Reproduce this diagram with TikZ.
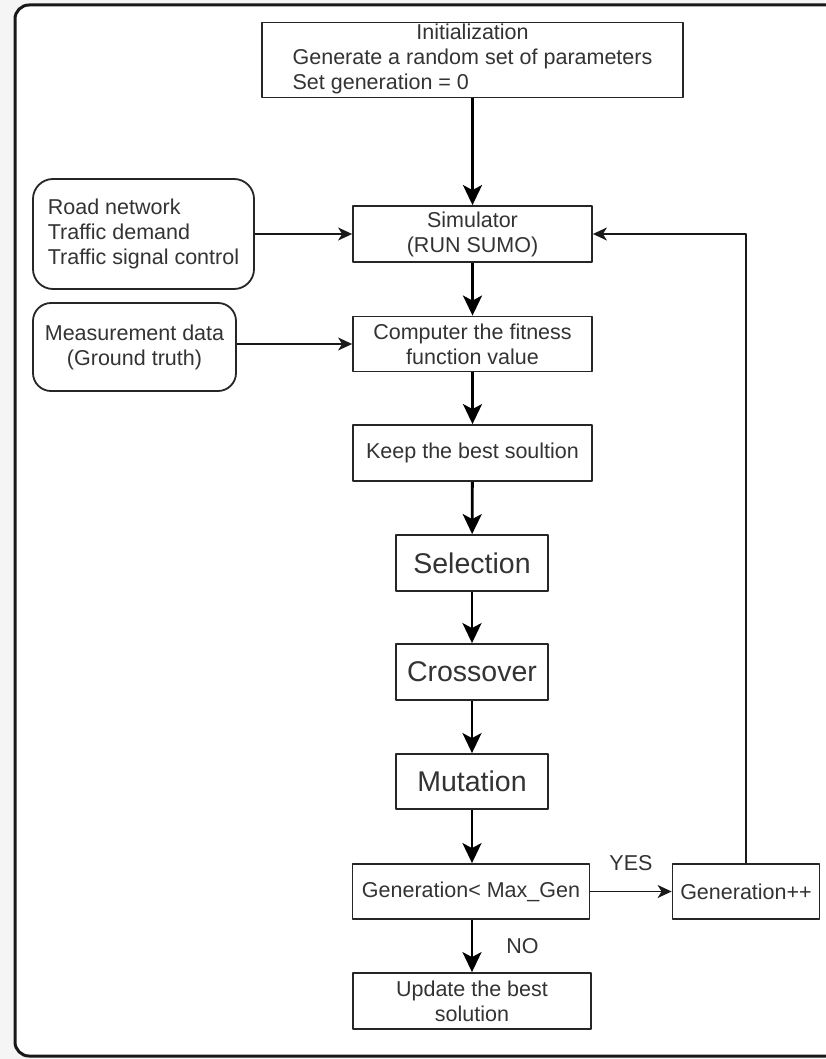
\documentclass[tikz,border=0pt]{standalone}
\usepackage{fontspec}
\setmainfont{Liberation Sans}
\usetikzlibrary{arrows.meta}
\begin{document}
\begin{tikzpicture}[x=1pt, y=-1pt, font=\fontsize{21.5}{25}\selectfont, line join=round, >={Stealth[length=20pt,width=19pt,inset=5pt]},
	blk/.style={draw=black!85, line width=1.8pt, inner sep=0pt, text=black!80, fill=white},
	rblk/.style={blk, rounded corners=20pt},
	bigtxt/.style={font=\fontsize{28.5}{34}\selectfont},
	arr/.style={->, line width=2.8pt, draw=black},
	larr/.style={-{Stealth[length=14pt,width=13pt,inset=4pt]}, line width=1.6pt, draw=black!90},
	lbl/.style={text=black!80, inner sep=7pt}]
		\useasboundingbox (0,0) rectangle (825,1059);
		\fill[black!4] (0,0) rectangle (825,1059);
		\draw[line width=3pt, rounded corners=14pt, draw=black!90, fill=white] (15,5) rectangle (860,1056);
		\node[blk, minimum width=421pt, minimum height=74pt] (init) at (472.5,60) {\begin{tabular}{@{}l@{}}\multicolumn{1}{@{}c@{}}{Initialization}\\Generate a random set of parameters\\Set generation = 0\end{tabular}};
		\node[blk, minimum width=239pt, minimum height=56pt, align=center] (sim) at (472.5,234) {Simulator\\(RUN SUMO)};
		\node[blk, minimum width=239pt, minimum height=55pt, align=center] (fit) at (472.5,344) {Computer the fitness\\function value};
		\node[blk, minimum width=239pt, minimum height=56pt] (keep) at (472.5,453) {Keep the best soultion};
		\node[blk, bigtxt, minimum width=152pt, minimum height=56pt] (sel) at (472,563) {Selection};
		\node[blk, bigtxt, minimum width=152pt, minimum height=56pt] (cross) at (472,672) {Crossover};
		\node[blk, bigtxt, minimum width=152pt, minimum height=55pt] (mut) at (472,781.5) {Mutation};
		\node[blk, minimum width=237pt, minimum height=55pt] (gen) at (471,891.5) {Generation< Max\_Gen};
		\node[blk, minimum width=147pt, minimum height=55pt] (gpp) at (746,891.5) {Generation++};
		\node[blk, minimum width=238pt, minimum height=56pt, align=center] (upd) at (472,1001) {Update the best\\solution};
		\node[rblk, minimum width=221pt, minimum height=110pt, align=left] (road) at (143.5,234) {Road network\\Traffic demand\\Traffic signal control};
		\node[rblk, rounded corners=18pt, minimum width=203pt, minimum height=88pt, align=center] (meas) at (134.5,347) {Measurement data\\(Ground truth)};
		\draw[arr] (init) -- (sim);
		\draw[arr] (sim) -- (fit);
		\draw[arr] (fit) -- (keep);
		\draw[arr] (keep) -- (sel);
		\draw[arr] (sel) -- (cross);
		\draw[arr] (cross) -- (mut);
		\draw[arr] (mut.south) -- (mut.south |- gen.north);
		\draw[arr] (upd.north |- gen.south) -- node[lbl, right=26pt]{NO} (upd.north);
		\draw[larr] (road) -- (sim);
		\draw[larr] (meas.east |- fit.west) -- (fit.west);
		\draw[larr] (gen) -- node[lbl, above=13pt]{YES} (gpp);
		\draw[larr] (gpp.north) |- (sim.east);
\end{tikzpicture}
\end{document}
